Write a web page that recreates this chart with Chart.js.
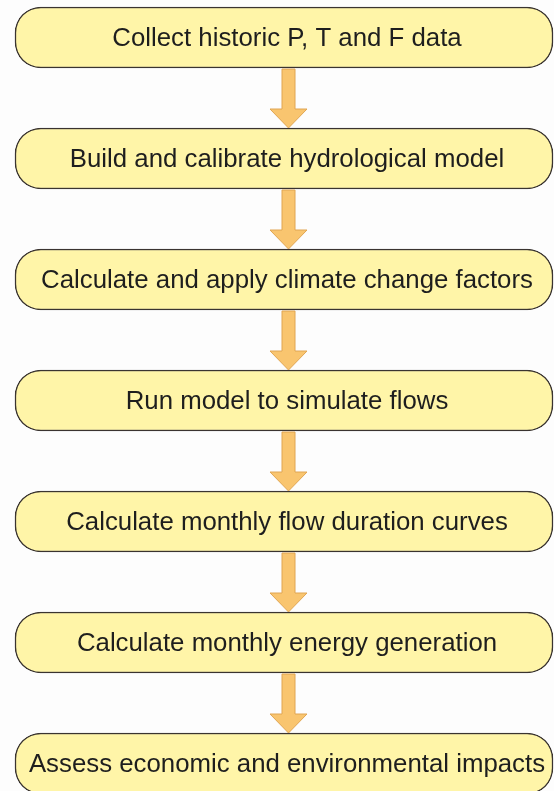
<!DOCTYPE html>
<html>
<head>
<meta charset="utf-8">
<script src="https://cdn.jsdelivr.net/npm/chart.js@4/dist/chart.umd.min.js"></script>
<style>
  html, body { margin: 0; padding: 0; background: #fdfdfd; overflow: hidden; }
  #wrap { position: absolute; left: 0; top: -23px; width: 554px; height: 847px; }
</style>
</head>
<body>
<div id="wrap"><canvas id="flow" width="554" height="847"></canvas></div>
<script>
"use strict"
// steps of the flowchart, top to bottom
let steps = ['Collect historic P, T and F data', 'Build and calibrate hydrological model',
    'Calculate and apply climate change factors', 'Run model to simulate flows',
    'Calculate monthly flow duration curves', 'Calculate monthly energy generation',
    'Assess economic and environmental impacts'];
// every box spans the full width of the step
let spans = [[0, 1], [0, 1], [0, 1], [0, 1], [0, 1], [0, 1], [0, 1]];

let boxFill = '#fff5a8';
let boxLine = '#3a3430';
let arrowFill = '#f9c56f';
let arrowLine = '#e0a552';

// draws the step names and the arrows between the boxes
let flowPlugin = {
    id: 'flowPlugin',
    afterDatasetsDraw(chart) {
        let ctx = chart.ctx;
        let bars = chart.getDatasetMeta(0).data;
        ctx.save();
        for (let i = 0; i < bars.length - 1; i++) {
            let a = bars[i];
            let b = bars[i + 1];
            let cx = (a.x + a.base) / 2 + 4.5;
            let top = a.y + a.height / 2 + 1;
            let tip = b.y - b.height / 2;
            let headTop = tip - 19;
            ctx.beginPath();
            ctx.moveTo(cx - 6.5, top);
            ctx.lineTo(cx + 6.5, top);
            ctx.lineTo(cx + 6.5, headTop);
            ctx.lineTo(cx + 18.5, headTop);
            ctx.lineTo(cx, tip);
            ctx.lineTo(cx - 18.5, headTop);
            ctx.lineTo(cx - 6.5, headTop);
            ctx.closePath();
            ctx.fillStyle = arrowFill;
            ctx.fill();
            ctx.lineWidth = 1;
            ctx.strokeStyle = arrowLine;
            ctx.stroke();
        }
        ctx.fillStyle = '#1e1e1e';
        ctx.font = '25.8px "Liberation Sans", Arial, sans-serif';
        ctx.textAlign = 'center';
        ctx.textBaseline = 'alphabetic';
        for (let i = 0; i < bars.length; i++) {
            let bar = bars[i];
            ctx.fillText(steps[i], (bar.x + bar.base) / 2 + 3, bar.y + 8.5);
        }
        ctx.restore();
    }
};

let ctx = document.getElementById('flow').getContext('2d');
let flowChart = new Chart(ctx, {
    type: 'bar',
    data: {
        labels: steps,
        datasets: [{
            data: spans,
            backgroundColor: boxFill,
            borderColor: boxLine,
            borderWidth: 1.5,
            borderSkipped: false,
            borderRadius: 26,
            barThickness: 61
        }]
    },
    options: {
        indexAxis: 'y',
        responsive: false,
        animation: false,
        devicePixelRatio: 1,
        layout: { padding: 0 },
        plugins: {
            legend: { display: false },
            tooltip: { enabled: false }
        },
        scales: {
            x: { type: 'linear', display: false, min: -15 / 538, max: 1 + 1 / 538 },
            y: { display: false }
        }
    },
    plugins: [flowPlugin]
});
</script>
</body>
</html>
